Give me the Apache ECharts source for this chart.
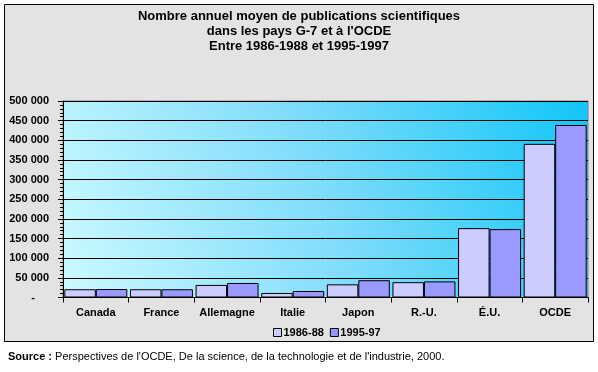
<!DOCTYPE html>
<html><head><meta charset="utf-8">
<script src="https://cdn.jsdelivr.net/npm/echarts@6/dist/echarts.min.js"></script>
<style>html,body{margin:0;padding:0;background:#fff;}#c{width:598px;height:372px;}</style>
</head><body><div id="c"></div>
<script>
const categories = ['Canada','France','Allemagne','Italie','Japon','R.-U.','É.U.','OCDE'];
const seriesNames = ['1986-88','1995-97'];
const values8688 = [21000, 21000, 32000, 11500, 33500, 39000, 176500, 391000];
const values9597 = [21500, 21000, 37000, 16500, 44000, 41000, 174000, 439000];
const yTicks = {min: 0, max: 500000, interval: 50000};

const FONT = 'Liberation Sans, Arial, sans-serif';
function fmt(v){
  if (v === 0) return '{d|-}';
  return String(v).replace(/\B(?=(\d{3})+(?!\d))/g, ' ');
}
const chart = echarts.init(document.getElementById('c'));
chart.setOption({
  animation: false,
  backgroundColor: '#ffffff',
  graphic: [
    {type:'rect', z:-10, shape:{x:4.5,y:4.5,width:589,height:337}, style:{fill:'#e3e3e3', stroke:'#000', lineWidth:1}},
    {type:'text', left: 8, top: 351, style:{text:'{b|Source :} Perspectives de l\'OCDE, De la science, de la technologie et de l\'industrie, 2000.', rich:{b:{fontWeight:'bold', fontFamily:FONT, fontSize:11, fill:'#000'}}, fontFamily:FONT, fontSize:11, fill:'#000'}}
  ],
  title: {
    text: 'Nombre annuel moyen de publications scientifiques\ndans les pays G-7 et à l\'OCDE\nEntre 1986-1988 et 1995-1997',
    left: 'center', top: 4,
    textStyle: {fontFamily: FONT, fontWeight: 'bold', fontSize: 13, lineHeight: 15, color: '#000'}
  },
  legend: {
    data: seriesNames, left: 268, top: 322, itemWidth: 8, itemHeight: 8, itemGap: 6, icon: 'rect',
    textStyle: {fontFamily: FONT, fontWeight: 'bold', fontSize: 11, color: '#000', padding:[0,0,0,-3]},
    itemStyle: {borderColor:'#000', borderWidth:1}
  },
  grid: {
    left: 63, right: 10, top: 101, bottom: 74.5, show: true,
    borderColor: '#808080', borderWidth: 1,
    backgroundColor: new echarts.graphic.LinearGradient(0, 1, 1, 0, [
      {offset: 0, color: '#ccfaff'},
      {offset: 0.5, color: '#7fdcfb'},
      {offset: 1, color: '#10c6f8'}
    ])
  },
  xAxis: {
    type: 'category', data: categories,
    axisLine: {lineStyle: {color: '#000', width: 1}},
    axisTick: {show: true, length: 5, lineStyle: {color: '#000'}},
    axisLabel: {interval: 0, fontFamily: FONT, fontWeight: 'bold', fontSize: 11, color: '#000', margin: 10}
  },
  yAxis: {
    type: 'value', min: yTicks.min, max: yTicks.max, interval: yTicks.interval,
    axisLine: {show: true, lineStyle: {color: '#000', width: 1}},
    axisTick: {show: true, length: 5, lineStyle: {color: '#000'}},
    minorTick: {show: true, splitNumber: 5, length: 3, lineStyle: {color: '#000'}},
    splitLine: {show: true, lineStyle: {color: '#000', width: 1}},
    axisLabel: {fontFamily: FONT, fontWeight: 'bold', fontSize: 11, color: '#000', margin: 14,
      formatter: fmt, rich: {d: {fontFamily: FONT, fontWeight:'bold', fontSize: 11, color:'#000', padding:[0,14,0,0]}}}
  },
  series: [
    {name: seriesNames[0], type: 'bar', data: values8688, barGap: '0%', barCategoryGap: '4%',
      itemStyle: {color: '#ccccff', borderColor: '#000', borderWidth: 1}},
    {name: seriesNames[1], type: 'bar', data: values9597, barGap: '0%', barCategoryGap: '4%',
      itemStyle: {color: '#9999ff', borderColor: '#000', borderWidth: 1}}
  ]
});
</script></body></html>
